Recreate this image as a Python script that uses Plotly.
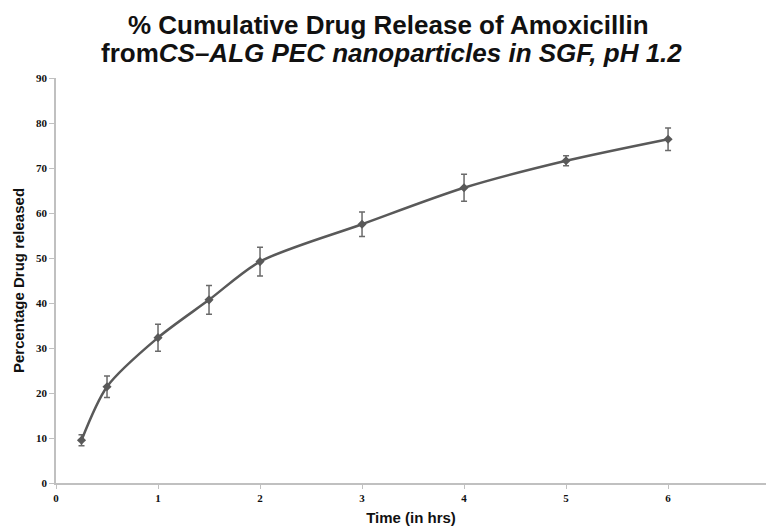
import plotly.graph_objects as go

time_hrs = [0.25, 0.5, 1, 1.5, 2, 3, 4, 5, 6]
release_pct = [9.5, 21.4, 32.3, 40.7, 49.2, 57.5, 65.6, 71.6, 76.4]
release_err = [1.2, 2.4, 3.0, 3.2, 3.2, 2.7, 3.0, 1.1, 2.5]

x_ticks = [0, 1, 2, 3, 4, 5, 6]
y_ticks = [0, 10, 20, 30, 40, 50, 60, 70, 80, 90]

title_line1 = "<b>% Cumulative Drug Release of Amoxicillin</b>"
title_line2 = "<b>from<i>CS\u2013ALG PEC nanoparticles in SGF, pH 1.2</i></b>"

title_font = dict(family="Liberation Sans, Arial, sans-serif", size=26, color="#111")
axis_title_font = dict(family="Liberation Sans Narrow, Liberation Sans, Arial, sans-serif",
                       size=15, color="#111")
tick_font = dict(family="Liberation Serif, serif", size=11, color="#111", weight="bold")

fig = go.Figure()
fig.add_trace(go.Scatter(
    x=time_hrs, y=release_pct,
    mode="lines+markers",
    line=dict(color="#595959", width=2.5, shape="spline", smoothing=0.8),
    marker=dict(symbol="diamond", size=7, color="#595959"),
    error_y=dict(type="data", array=release_err, visible=True,
                 color="#6a6a6a", thickness=1.5, width=3),
    showlegend=False,
))

fig.add_annotation(text=title_line1, xref="paper", yref="paper", x=0.468, y=1.0,
                   yshift=53, xanchor="center", yanchor="middle", showarrow=False,
                   font=title_font)
fig.add_annotation(text=title_line2, xref="paper", yref="paper", x=0.472, y=1.0,
                   yshift=25, xanchor="center", yanchor="middle", showarrow=False,
                   font=title_font)

fig.update_layout(
    width=766, height=529,
    margin=dict(l=56, r=0, t=78, b=46),
    paper_bgcolor="white", plot_bgcolor="white",
    xaxis=dict(
        range=[0, 6.96], tickvals=x_ticks, ticktext=[str(v) for v in x_ticks],
        showgrid=False, zeroline=False, showline=True, linecolor="#c0c0c0", linewidth=1.5,
        ticks="outside", ticklen=4, tickcolor="#c0c0c0",
        tickfont=tick_font,
        title=dict(text="<b>Time (in hrs)</b>", standoff=10, font=axis_title_font),
    ),
    yaxis=dict(
        range=[0, 90], tickvals=y_ticks, ticktext=[str(v) for v in y_ticks],
        showgrid=False, zeroline=False, showline=True, linecolor="#c0c0c0", linewidth=1.5,
        ticks="outside", ticklen=5, tickcolor="#c0c0c0",
        tickfont=tick_font,
        title=dict(text="<b>Percentage Drug released</b>", standoff=8, font=axis_title_font),
    ),
)

fig.write_html("out.html")
